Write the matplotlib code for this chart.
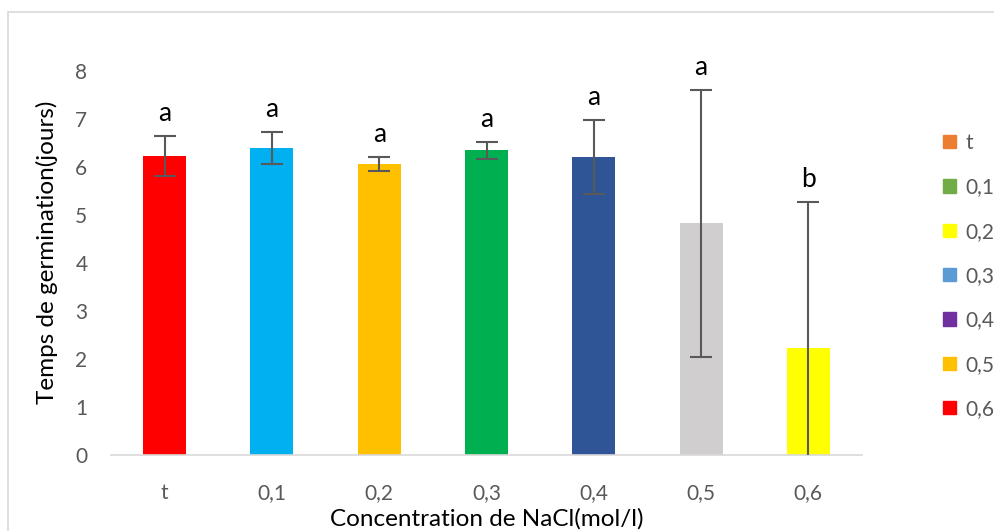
import matplotlib
matplotlib.use('Agg')
import matplotlib.pyplot as plt
from matplotlib.patches import Patch, Rectangle

plt.rcParams['font.family'] = ['Lato', 'DejaVu Sans']

# data
categories = ['t', '0,1', '0,2', '0,3', '0,4', '0,5', '0,6']
values = [6.23, 6.40, 6.06, 6.35, 6.21, 4.83, 2.23]
errors = [0.42, 0.33, 0.15, 0.18, 0.77, 2.78, 3.04]
letters = ['a', 'a', 'a', 'a', 'a', 'a', 'b']
bar_colors = ['#FF0000', '#00B0F0', '#FFC000', '#00B050', '#2F5597', '#D0CECE', '#FFFF00']

legend_labels = ['t', '0,1', '0,2', '0,3', '0,4', '0,5', '0,6']
legend_colors = ['#ED7D31', '#70AD47', '#FFFF00', '#5B9BD5', '#7030A0', '#FFC000', '#FF0000']

fig = plt.figure(figsize=(9.94, 5.31), dpi=100)
ax = fig.add_axes([0.1117, 0.1431, 0.7555, 0.7232])

x = range(len(categories))
ax.bar(x, values, width=0.4, color=bar_colors, zorder=2)
ax.errorbar(x, values, yerr=errors, fmt='none', ecolor='#595959',
            elinewidth=1.5, capsize=8, capthick=1.5, zorder=3)

for i in x:
    ax.annotate(letters[i], (i, values[i] + errors[i]), xytext=(0, 7),
                textcoords='offset points', ha='center', va='bottom',
                fontsize=19, color='black')

ax.set_xlim(-0.5, len(categories) - 0.5)
ax.set_ylim(0, 8)
ax.set_xticks(list(x))
ax.set_xticklabels(categories)
ax.set_yticks(range(0, 9))
ax.tick_params(length=0, labelsize=15, colors='#595959')
ax.tick_params(axis='x', pad=20)
ax.tick_params(axis='y', pad=17)
for s in ['top', 'right', 'left']:
    ax.spines[s].set_visible(False)
ax.spines['bottom'].set_color('#D9D9D9')
ax.spines['bottom'].set_linewidth(1.2)

ax.set_ylabel('Temps de germination(jours)', fontsize=17.5)
ax.yaxis.set_label_coords(-0.07, 0.528)
ax.set_xlabel('Concentration de NaCl(mol/l)', fontsize=17.5, labelpad=4)

handles = [Patch(color=c, label=l) for c, l in zip(legend_colors, legend_labels)]
leg = fig.legend(handles=handles, loc='upper left', bbox_to_anchor=(0.93, 0.785),
                 frameon=False, fontsize=15, labelspacing=1.17,
                 handlelength=0.6, handleheight=0.6, handletextpad=0.45)
for t in leg.get_texts():
    t.set_color('#595959')

fig.patches.append(Rectangle((8 / 994, -0.1), 1.2, 1 - 12 / 531 + 0.1,
                             transform=fig.transFigure, fill=False,
                             edgecolor='#D9D9D9', linewidth=1.2))

fig.savefig('out.png', dpi=100)
